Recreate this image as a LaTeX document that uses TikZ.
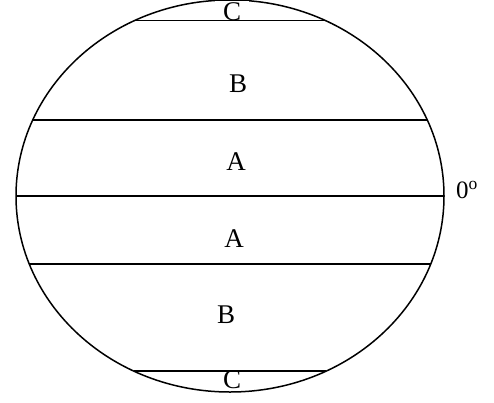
\documentclass[tikz,border=0pt]{standalone}
\usepackage{fontspec}
\setmainfont{Liberation Serif}
\usetikzlibrary{positioning}

\tikzset{
    zonelabel/.style={font=\fontsize{27}{30}\selectfont, inner sep=1pt},
    zoneline/.style={line width=1.2pt}
}

\begin{document}
\begin{tikzpicture}[x=1pt, y=-1pt]
    \useasboundingbox (0,0) rectangle (494,402);
    \fill[white] (0,0) rectangle (494,402);

    % globe outline
    \draw[line width=1.5pt] (230,196) ellipse (214 and 196);
    \node[zonelabel, fill=white, inner xsep=8pt] (ctop) at (232,11.5) {C};

    % zone boundaries
    \foreach \yy in {20.5, 120, 196, 264, 371}{
        \pgfmathsetmacro{\hw}{214*sqrt(1-((\yy-196)/196)^2)}
        \draw[zoneline] ({230-\hw},\yy) -- ({230+\hw},\yy);
    }

    % zone names
    \node[zonelabel] (btop) at (238,84) {B};
    \node[zonelabel] (atop) at (236,162) {A};
    \node[zonelabel] (abot) at (234,239) {A};
    \node[zonelabel] (bbot) at (226,315) {B};
    \node[zonelabel] (cbot) at (232,380) {C};
    \node[zonelabel, font=\fontsize{25}{28}\selectfont] (equator) at (467,190) {0\textsuperscript{o}};
\end{tikzpicture}
\end{document}
